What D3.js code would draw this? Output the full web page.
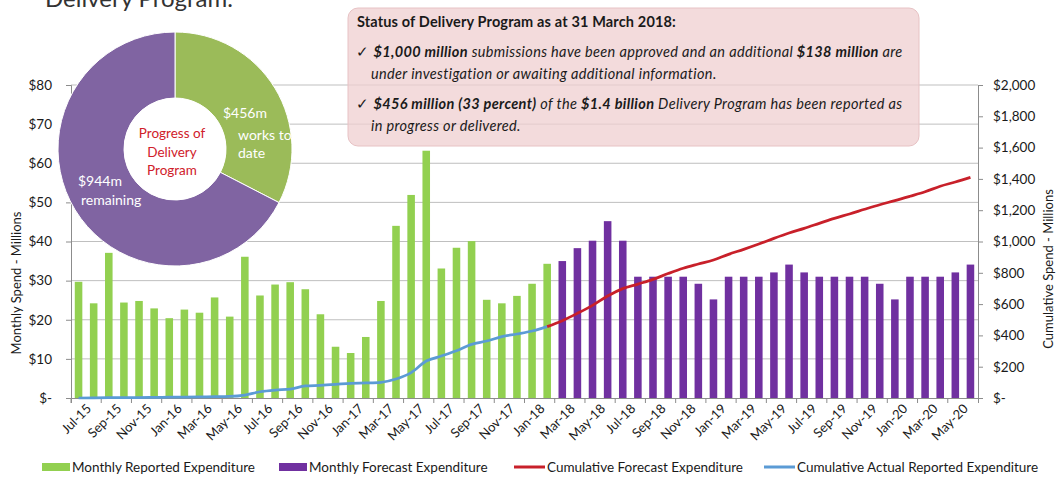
<!DOCTYPE html>
<html lang="en">
<head>
<meta charset="UTF-8">
<title>Delivery Program Expenditure</title>
<script src="https://d3js.org/d3.v7.min.js"></script>
<style>
  body { margin: 0; background: #fff; }
  svg { display: block; font-family: Lato, "Open Sans", sans-serif; }
</style>
</head>
<body>
<div id="chart"></div>
<script>
// months Jul-15 .. Jun-20
const months = [
  "Jul-15","Aug-15","Sep-15","Oct-15","Nov-15","Dec-15",
  "Jan-16","Feb-16","Mar-16","Apr-16","May-16","Jun-16","Jul-16","Aug-16","Sep-16","Oct-16","Nov-16","Dec-16",
  "Jan-17","Feb-17","Mar-17","Apr-17","May-17","Jun-17","Jul-17","Aug-17","Sep-17","Oct-17","Nov-17","Dec-17",
  "Jan-18","Feb-18","Mar-18","Apr-18","May-18","Jun-18","Jul-18","Aug-18","Sep-18","Oct-18","Nov-18","Dec-18",
  "Jan-19","Feb-19","Mar-19","Apr-19","May-19","Jun-19","Jul-19","Aug-19","Sep-19","Oct-19","Nov-19","Dec-19",
  "Jan-20","Feb-20","Mar-20","Apr-20","May-20","Jun-20"
];

// monthly reported expenditure, Jul-15 .. Feb-18 ($m)
const reported = [29.7, 24.2, 37.1, 24.4, 24.8, 22.9, 20.4, 22.6, 21.8, 25.7, 20.8, 36.1,
  26.2, 29.0, 29.6, 27.8, 21.4, 13.1, 11.5, 15.6, 24.8, 44.0, 51.9, 63.2,
  33.1, 38.4, 40.1, 25.1, 24.2, 26.1, 29.2, 34.3];

// monthly forecast expenditure, Mar-18 .. Jun-20 ($m)
const forecast = [35.0, 38.3, 40.2, 45.2, 40.2, 31.0, 31.0, 31.0, 31.0, 29.2,
  25.2, 31.0, 31.0, 31.0, 32.1, 34.1, 32.1, 31.0, 31.0, 31.0, 31.0, 29.2,
  25.2, 31.0, 31.0, 31.0, 32.1, 34.1];

// cumulative actual reported, Jul-15 .. Feb-18 ($m)
const cumActual = [0, 1, 2, 3, 3, 4, 5, 6, 7, 8, 10, 19,
  40, 51, 57, 77, 81, 87, 94, 96, 100, 121, 162, 236,
  268, 302, 343, 364, 392, 409, 428, 456];

// cumulative forecast, Feb-18 .. Jun-20 ($m)
const cumForecast = [456, 494, 541, 592, 652, 699, 728, 758, 795, 829, 856,
  882, 918, 950, 984, 1020, 1054, 1084, 1116, 1148, 1176, 1206, 1235,
  1261, 1289, 1318, 1353, 1380, 1410];

const leftTicks = [0, 10, 20, 30, 40, 50, 60, 70, 80];
const rightTicks = [0, 200, 400, 600, 800, 1000, 1200, 1400, 1600, 1800, 2000];

const donutParts = [
  { name: "works to date", value: 456 },
  { name: "remaining", value: 944 }
];

const W = 1059, H = 477;
const plotL = 71, plotR = 978, plotT = 85, plotB = 398;

const svg = d3.select("#chart").append("svg")
  .attr("width", W).attr("height", H);

const x = d3.scaleBand().domain(months).range([plotL, plotR])
  .paddingInner(0.5).paddingOuter(0.25);
const step = x.step();
const cx = m => x(m) + x.bandwidth() / 2;
const yL = d3.scaleLinear().domain([0, 80]).range([plotB, plotT]);
const yR = d3.scaleLinear().domain([0, 2000]).range([plotB, plotT]);

const money = v => v === 0 ? "$-" : "$" + d3.format(",")(v);

// gridlines
svg.append("g").selectAll("line")
  .data(leftTicks.slice(1))
  .join("line")
  .attr("x1", plotL).attr("x2", plotR)
  .attr("y1", d => yL(d)).attr("y2", d => yL(d))
  .attr("stroke", "#bfbfbf").attr("stroke-width", 1);

// left axis
const axL = svg.append("g").attr("transform", `translate(${plotL},0)`)
  .call(d3.axisLeft(yL).tickValues(leftTicks).tickFormat(money).tickSize(5).tickPadding(14));
// right axis
const axR = svg.append("g").attr("transform", `translate(${plotR},0)`)
  .call(d3.axisRight(yR).tickValues(rightTicks).tickFormat(money).tickSize(5).tickPadding(10));
// bottom axis
const axB = svg.append("g").attr("transform", `translate(0,${plotB})`)
  .call(d3.axisBottom(x).tickValues(months.filter((m, i) => i % 2 === 0)).tickSize(5));
axB.selectAll(".tick line").attr("transform", `translate(${-step / 2},0)`);
axB.selectAll(".tick text")
  .attr("text-anchor", "end")
  .attr("transform", "translate(6,4) rotate(-45)")
  .attr("dy", "0.35em").attr("y", 6).attr("x", 0);

[axL, axR, axB].forEach(a => {
  a.selectAll(".domain").attr("stroke", "#8c8c8c");
  a.selectAll(".tick line").attr("stroke", "#8c8c8c");
  a.selectAll("text").attr("fill", "#1a1a1a").style("font-family", "Lato, sans-serif");
});
axL.selectAll("text").style("font-size", "13.5px");
axR.selectAll("text").style("font-size", "13.5px");
axB.selectAll("text").style("font-size", "13px");

// axis titles
svg.append("text")
  .attr("transform", `translate(21,${283}) rotate(-90)`)
  .attr("text-anchor", "middle").attr("font-size", 13).attr("fill", "#1a1a1a")
  .text("Monthly Spend - Millions");
svg.append("text")
  .attr("transform", `translate(1053,${269}) rotate(-90)`)
  .attr("text-anchor", "middle").attr("font-size", 13).attr("fill", "#1a1a1a")
  .text("Cumulative Spend - Millions");

// bars
svg.append("g").selectAll("rect")
  .data(reported)
  .join("rect")
  .attr("x", (d, i) => x(months[i]))
  .attr("y", d => yL(d))
  .attr("width", x.bandwidth())
  .attr("height", d => yL(0) - yL(d))
  .attr("fill", "#92d050");

svg.append("g").selectAll("rect")
  .data(forecast)
  .join("rect")
  .attr("x", (d, i) => x(months[i + reported.length]))
  .attr("y", d => yL(d))
  .attr("width", x.bandwidth())
  .attr("height", d => yL(0) - yL(d))
  .attr("fill", "#7030a0");

// cumulative lines
const line = d3.line().x(d => d[0]).y(d => yR(d[1])).curve(d3.curveMonotoneX);
svg.append("path")
  .datum(cumActual.map((v, i) => [cx(months[i]), v]))
  .attr("d", line).attr("fill", "none")
  .attr("stroke", "#5b9bd5").attr("stroke-width", 2.75);
svg.append("path")
  .datum(cumForecast.map((v, i) => [cx(months[i + reported.length - 1]), v]))
  .attr("d", line).attr("fill", "none")
  .attr("stroke", "#c8202a").attr("stroke-width", 2.75);

// donut
const pie = d3.pie().sort(null).value(d => d.value);
const arc = d3.arc().innerRadius(51).outerRadius(117);
const donut = svg.append("g").attr("transform", "translate(175,149)");
donut.selectAll("path")
  .data(pie(donutParts))
  .join("path")
  .attr("d", arc)
  .attr("fill", (d, i) => i === 0 ? "#9bbb59" : "#8064a2")
  .attr("stroke", "#fff").attr("stroke-width", 1);
donut.append("circle").attr("r", 51).attr("fill", "#fff");

const dLabel = (tx, ty, s, col, size, anchor) => svg.append("text")
  .attr("x", tx).attr("y", ty).attr("fill", col).attr("font-size", size)
  .attr("text-anchor", anchor || "start").text(s);
dLabel(223, 118, "$456m", "#fff", 14);
dLabel(238, 140, "works to", "#fff", 14);
dLabel(238, 158, "date", "#fff", 14);
dLabel(78, 186, "$944m", "#fff", 14);
dLabel(81, 205, "remaining", "#fff", 14);
dLabel(172, 138, "Progress of", "#d0202a", 13.5, "middle");
dLabel(172, 157, "Delivery", "#d0202a", 13.5, "middle");
dLabel(172, 175, "Program", "#d0202a", 13.5, "middle");

// page title fragment at top (cut off by the frame, as in the source)
svg.append("text").attr("x", 45).attr("y", 7)
  .attr("font-size", 24).attr("fill", "#333").text("Delivery Program.");

// status box
const box = svg.append("g");
box.append("rect")
  .attr("x", 348).attr("y", 8).attr("width", 571).attr("height", 138).attr("rx", 10)
  .attr("fill", "#efcfd0").attr("fill-opacity", 0.75)
  .attr("stroke", "#e7c2c4").attr("stroke-width", 1);

const rich = (tx, ty, parts, ls) => {
  const t = box.append("text").attr("x", tx).attr("y", ty)
    .attr("font-size", 14.5).attr("fill", "#1a1a1a")
    .attr("letter-spacing", ls);
  parts.forEach(p => t.append("tspan")
    .attr("font-weight", p[1] ? "bold" : "normal")
    .attr("font-style", p[2] === false ? "normal" : "italic")
    .text(p[0]));
  return t;
};
rich(357, 27, [["Status of Delivery Program as at 31 March 2018:", true, false]], 0.15);
rich(356, 57, [["\u2713 ", false, false], ["$1,000 million", true], [" submissions have been approved and an additional ", false], ["$138 million", true], [" are", false]], 0.35);
rich(371, 79, [["under investigation or awaiting additional information.", false]], 0.35);
rich(356, 109, [["\u2713 ", false, false], ["$456 million (33 percent)", true], [" of the ", false], ["$1.4 billion", true], [" Delivery Program has been reported as", false]], 0.35);
rich(371, 131, [["in progress or delivered.", false]], 0.35);

// legend
const legend = [
  { label: "Monthly Reported Expenditure", color: "#92d050", type: "rect", x: 42 },
  { label: "Monthly Forecast Expenditure", color: "#7030a0", type: "rect", x: 279 },
  { label: "Cumulative Forecast Expenditure", color: "#c8202a", type: "line", x: 514 },
  { label: "Cumulative Actual Reported Expenditure", color: "#5b9bd5", type: "line", x: 764 }
];
const lg = svg.append("g").selectAll("g").data(legend).join("g")
  .attr("transform", d => `translate(${d.x},467)`);
lg.filter(d => d.type === "rect").append("rect")
  .attr("x", 0).attr("y", -4).attr("width", 28).attr("height", 8).attr("fill", d => d.color);
lg.filter(d => d.type === "line").append("line")
  .attr("x1", 0).attr("x2", 31).attr("y1", 0).attr("y2", 0)
  .attr("stroke", d => d.color).attr("stroke-width", 3);
lg.append("text")
  .attr("x", d => d.type === "rect" ? 30 : 33).attr("y", 0).attr("dy", "0.35em")
  .attr("font-size", 13.5).attr("fill", "#1a1a1a").text(d => d.label);
</script>
</body>
</html>
